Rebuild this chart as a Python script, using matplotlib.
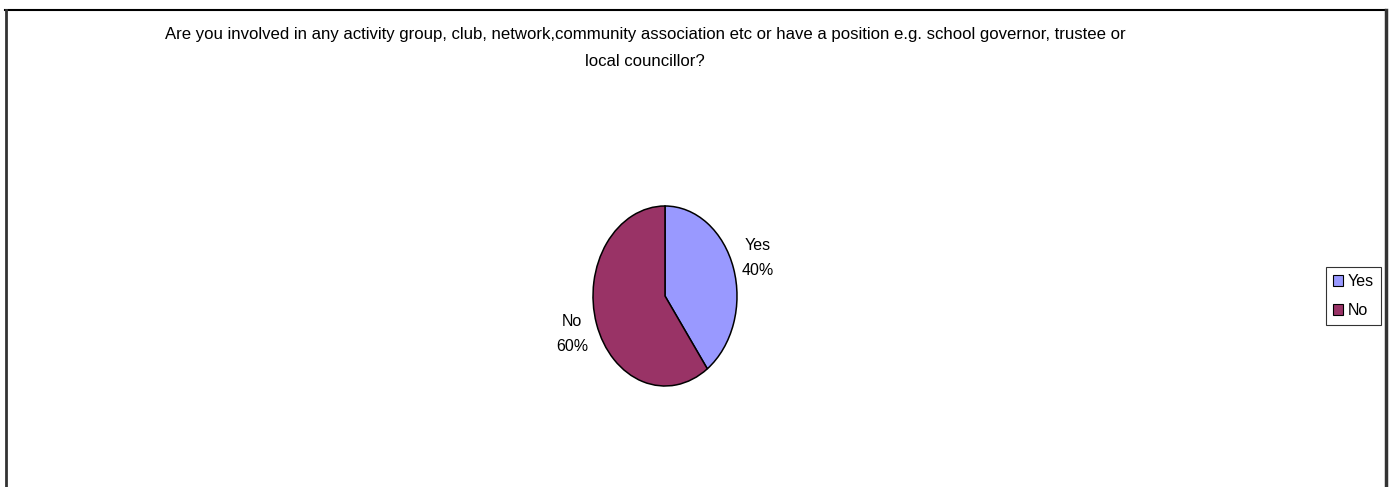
import matplotlib
matplotlib.use("Agg")
import matplotlib.pyplot as plt
import numpy as np
from matplotlib.lines import Line2D
from matplotlib.patches import Patch

plt.rcParams['font.family'] = ['Liberation Sans Narrow', 'Liberation Sans', 'DejaVu Sans']

# Survey answers
labels = ['Yes', 'No']
shares = [40, 60]
colors = ['#9999FF', '#993366']
title = ('Are you involved in any activity group, club, network,community association etc '
         'or have a position e.g. school governor, trustee or\nlocal councillor?')

W, H = 1391, 487
fig = plt.figure(figsize=(W / 100, H / 100), dpi=100)

# chart area outline (bottom edge runs off the page)
fig.add_artist(Line2D([5 / W, 1385 / W], [1 - 10 / H, 1 - 10 / H], color='black', lw=1.5,
                      transform=fig.transFigure))
fig.add_artist(Line2D([5.5 / W, 5.5 / W], [0, 1 - 10 / H], color='#333333', lw=2,
                      transform=fig.transFigure))
fig.add_artist(Line2D([1386 / W, 1386 / W], [0, 1 - 10 / H], color='#333333', lw=2.5,
                      transform=fig.transFigure))

fig.text(645 / W, 1 - 48 / H, title, ha='center', va='center', fontsize=12.1,
         multialignment='center', linespacing=1.95)

# pie sits in a narrow axes so it comes out as an upright ellipse
cx0, cx1, cy0, cy1 = 593, 737, 206, 386
ax = fig.add_axes([cx0 / W, 1 - cy1 / H, (cx1 - cx0) / W, (cy1 - cy0) / H])
wedges, _ = ax.pie(shares, colors=colors, startangle=90, counterclock=False,
                   wedgeprops=dict(edgecolor='black', linewidth=1.1))
ax.set_aspect('auto')
ax.set_xlim(-1, 1)
ax.set_ylim(-1, 1)
ax.axis('off')

total = sum(shares)
for w, lab, val in zip(wedges, labels, shares):
    ang = np.deg2rad((w.theta1 + w.theta2) / 2)
    d = 1.36
    ax.text(d * np.cos(ang), d * np.sin(ang), f'{lab}\n{val / total:.0%}',
            ha='center', va='center', fontsize=11.5, linespacing=1.8, clip_on=False)

handles = [Patch(facecolor=c, edgecolor='black', linewidth=0.8) for c in colors]
leg = fig.legend(handles, labels, loc='center', bbox_to_anchor=(1353.5 / W, 1 - 296 / H),
                 fontsize=11.5, frameon=True, fancybox=False, edgecolor='black',
                 handlelength=0.65, handleheight=0.65, handletextpad=0.3, labelspacing=0.85,
                 borderpad=0.45, borderaxespad=0)
leg.get_frame().set_linewidth(0.8)

fig.savefig('out.png', dpi=100, facecolor='white')
